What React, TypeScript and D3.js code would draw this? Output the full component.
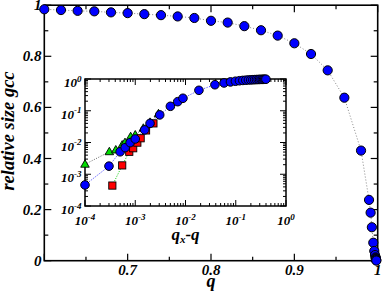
import React from "react";
import * as d3 from "d3";

// Main panel: relative size of giant connected component vs q
const mainQ = [0.60, 0.62, 0.64, 0.66, 0.68, 0.70, 0.72, 0.74, 0.76, 0.78, 0.80, 0.82, 0.84, 0.86, 0.88, 0.90, 0.92, 0.94, 0.96, 0.98, 0.9896, 0.9915, 0.993, 0.9947, 0.9959, 0.9968, 0.9975, 0.9977, 0.9979, 0.998, 0.9982, 0.9984];
const mainSize = [0.984, 0.981, 0.978, 0.976, 0.972, 0.969, 0.965, 0.961, 0.956, 0.950, 0.939, 0.932, 0.918, 0.902, 0.881, 0.851, 0.809, 0.745, 0.638, 0.431, 0.238, 0.188, 0.131, 0.0705, 0.038, 0.022, 0.0129, 0.0099, 0.0069, 0.0051, 0.0018, 0.0005];

const mainXTicks = [0.6, 0.7, 0.8, 0.9, 1.0];
const mainXMinor = [0.65, 0.75, 0.85, 0.95];
const mainXLabels = ["", "0.7", "0.8", "0.9", "1"];
const mainYTicks = [0, 0.2, 0.4, 0.6, 0.8, 1.0];
const mainYMinor = [0.1, 0.3, 0.5, 0.7, 0.9];
const mainYLabels = ["0", "0.2", "0.4", "0.6", "0.8", "1"];

// Inset: log-log, size vs qx - q
const blueX = [1e-4, 3.0e-4, 5.0e-4, 6.3e-4, 7.9e-4, 1.0e-3, 1.54e-3, 1.97e-3, 3.07e-3, 5.0e-3, 7.0e-3, 8.9e-3, 0.0185, 0.0385, 0.0585, 0.0785, 0.0985, 0.1185, 0.1385, 0.1585, 0.1785, 0.1985, 0.2185, 0.2385, 0.2585, 0.2785, 0.2985, 0.3185, 0.3385, 0.3585, 0.3785, 0.3985];
const blueY = [4.6e-4, 1.8e-3, 5.1e-3, 6.9e-3, 9.9e-3, 1.29e-2, 2.5e-2, 4.0e-2, 7.4e-2, 0.138, 0.193, 0.247, 0.44, 0.66, 0.75, 0.809, 0.851, 0.881, 0.902, 0.918, 0.932, 0.939, 0.950, 0.956, 0.961, 0.965, 0.969, 0.972, 0.976, 0.978, 0.981, 0.984];
const greenX = [1e-4, 3.05e-4, 4.1e-4, 5.5e-4, 6.25e-4, 8.1e-4, 1.0e-3, 1.45e-3, 1.97e-3, 2.9e-3];
const greenY = [2.06e-3, 5.1e-3, 5.8e-3, 8.3e-3, 9.9e-3, 1.52e-2, 1.72e-2, 2.8e-2, 4.3e-2, 8.0e-2];
const redX = [3.5e-4, 5.5e-4, 7.6e-4, 9.1e-4, 1.1e-3, 1.28e-3, 1.64e-3, 2.3e-3];
const redY = [4.4e-4, 1.9e-3, 5.1e-3, 6.6e-3, 9.9e-3, 1.36e-2, 2.4e-2, 4.0e-2];

const decades = [-4, -3, -2, -1, 0];

const FONT = "'Liberation Serif', 'DejaVu Serif', serif";

export default function App() {
  const W = 382, H = 293;
  const x = d3.scaleLinear().domain([0.6, 1.0]).range([44.3, 377.7]);
  const y = d3.scaleLinear().domain([0, 1]).range([260.7, 5.2]);

  const ix = d3.scaleLog().domain([1e-4, 1]).range([85, 286]);
  const iy = d3.scaleLog().domain([1e-4, 1]).range([206, 79]);

  const mainLine = d3.line<number>().x((_, i) => x(mainQ[i])).y((d) => y(d));
  const lineOf = (xs: number[], ys: number[]) =>
    d3.line<number>().x((_, i) => ix(xs[i])).y((d) => iy(d))(ys) || "";

  const x0 = x.range()[0], x1 = x.range()[1];
  const y0 = y.range()[0], y1 = y.range()[1];
  const ix0 = 85, ix1 = 286, iy0 = 206, iy1 = 79;

  const minorLog: number[] = [];
  decades.slice(0, -1).forEach((e) => {
    for (let m = 2; m <= 9; m++) minorLog.push(m * Math.pow(10, e));
  });

  const tri = (cx: number, cy: number, s: number) =>
    `M${cx},${cy - s} L${cx + s * 0.95},${cy + s * 0.65} L${cx - s * 0.95},${cy + s * 0.65} Z`;

  return (
    <svg width={W} height={H} style={{ position: "absolute", left: 0, top: 0, background: "#fff" }} fontFamily={FONT}>
      {/* main frame */}
      <rect x={x0} y={y1} width={x1 - x0} height={y0 - y1} fill="none" stroke="#000" strokeWidth={1.6} />
      {mainXTicks.map((t, i) => (
        <g key={"mx" + i}>
          <line x1={x(t)} x2={x(t)} y1={y0} y2={y0 - 7} stroke="#000" strokeWidth={1.2} />
          <line x1={x(t)} x2={x(t)} y1={y1} y2={y1 + 7} stroke="#000" strokeWidth={1.2} />
          <text x={x(t)} y={y0 + 14.5} textAnchor="middle" fontSize={15} fontWeight="bold" fontStyle="italic">{mainXLabels[i]}</text>
        </g>
      ))}
      {mainXMinor.map((t, i) => (
        <g key={"mxm" + i}>
          <line x1={x(t)} x2={x(t)} y1={y0} y2={y0 - 4} stroke="#000" strokeWidth={1.2} />
          <line x1={x(t)} x2={x(t)} y1={y1} y2={y1 + 4} stroke="#000" strokeWidth={1.2} />
        </g>
      ))}
      {mainYTicks.map((t, i) => (
        <g key={"my" + i}>
          <line x1={x0} x2={x0 + 7} y1={y(t)} y2={y(t)} stroke="#000" strokeWidth={1.2} />
          <line x1={x1} x2={x1 - 7} y1={y(t)} y2={y(t)} stroke="#000" strokeWidth={1.2} />
          <text x={41.5} y={y(t) + 5} textAnchor="end" fontSize={15} fontWeight="bold" fontStyle="italic">{mainYLabels[i]}</text>
        </g>
      ))}
      {mainYMinor.map((t, i) => (
        <g key={"mym" + i}>
          <line x1={x0} x2={x0 + 4} y1={y(t)} y2={y(t)} stroke="#000" strokeWidth={1.2} />
          <line x1={x1} x2={x1 - 4} y1={y(t)} y2={y(t)} stroke="#000" strokeWidth={1.2} />
        </g>
      ))}
      <text x={211} y={287} textAnchor="middle" fontSize={18} fontWeight="bold" fontStyle="italic">q</text>
      <text transform="translate(13.5,131) rotate(-90)" textAnchor="middle" fontSize={18.5} fontWeight="bold" fontStyle="italic">relative size gcc</text>

      <path d={mainLine(mainSize) || ""} fill="none" stroke="#888" strokeWidth={1} strokeDasharray="1,2" />
      {mainSize.map((d, i) => (
        <circle key={"mc" + i} cx={x(mainQ[i])} cy={y(d)} r={4.6} fill="#0000ff" stroke="#000" strokeWidth={1} />
      ))}

      {/* inset */}
      <rect x={ix0} y={iy1} width={ix1 - ix0} height={iy0 - iy1} fill="#fff" stroke="none" />
      {decades.map((e) => {
        const v = Math.pow(10, e);
        return (
          <g key={"id" + e}>
            <line x1={ix(v)} x2={ix(v)} y1={iy0} y2={iy0 - 6} stroke="#000" strokeWidth={1} />
            <line x1={ix(v)} x2={ix(v)} y1={iy1} y2={iy1 + 6} stroke="#000" strokeWidth={1} />
            <line x1={ix0} x2={ix0 + 6} y1={iy(v)} y2={iy(v)} stroke="#000" strokeWidth={1} />
            <line x1={ix1} x2={ix1 - 6} y1={iy(v)} y2={iy(v)} stroke="#000" strokeWidth={1} />
            <text x={ix(v)} y={iy0 + 19} textAnchor="middle" fontSize={13} fontWeight="bold" fontStyle="italic">
              10<tspan dy={-5.5} fontSize={9}>{e === 0 ? "0" : "-" + Math.abs(e)}</tspan>
            </text>
            <text x={81.5} y={iy(v) + 8} textAnchor="end" fontSize={13} fontWeight="bold" fontStyle="italic">
              10<tspan dy={-5.5} fontSize={9}>{e === 0 ? "0" : "-" + Math.abs(e)}</tspan>
            </text>
          </g>
        );
      })}
      {minorLog.map((v, i) => (
        <g key={"iml" + i}>
          <line x1={ix(v)} x2={ix(v)} y1={iy0} y2={iy0 - 3} stroke="#000" strokeWidth={1} />
          <line x1={ix(v)} x2={ix(v)} y1={iy1} y2={iy1 + 3} stroke="#000" strokeWidth={1} />
          <line x1={ix0} x2={ix0 + 3} y1={iy(v)} y2={iy(v)} stroke="#000" strokeWidth={1} />
          <line x1={ix1} x2={ix1 - 3} y1={iy(v)} y2={iy(v)} stroke="#000" strokeWidth={1} />
        </g>
      ))}
      <rect x={ix0} y={iy1} width={ix1 - ix0} height={iy0 - iy1} fill="none" stroke="#000" strokeWidth={1.5} />
      <text x={185.5} y={239.5} textAnchor="middle" fontSize={17} fontWeight="bold" fontStyle="italic">
        q<tspan dy={3} fontSize={11}>x</tspan><tspan dy={-3}>-q</tspan>
      </text>

      <path d={lineOf(greenX, greenY)} fill="none" stroke="#666" strokeWidth={1} strokeDasharray="1,1.5" />
      <path d={lineOf(blueX, blueY)} fill="none" stroke="#3333ff" strokeWidth={1} strokeDasharray="1,1.5" />
      <path d={lineOf(redX, redY)} fill="none" stroke="#00cc00" strokeWidth={1} strokeDasharray="1,1.5" />
      {greenY.map((d, i) => (
        <path key={"gt" + i} d={tri(ix(greenX[i]), iy(d), 4.5)} fill="#00dd00" stroke="#000" strokeWidth={0.9} />
      ))}
      {redY.map((d, i) => (
        <rect key={"rs" + i} x={ix(redX[i]) - 3.6} y={iy(d) - 3.6} width={7.2} height={7.2} fill="#ff0000" stroke="#000" strokeWidth={0.9} />
      ))}
      {blueY.map((d, i) => (
        <circle key={"bc" + i} cx={ix(blueX[i])} cy={iy(d)} r={4.3} fill="#0000ff" stroke="#000" strokeWidth={1} />
      ))}
    </svg>
  );
}
